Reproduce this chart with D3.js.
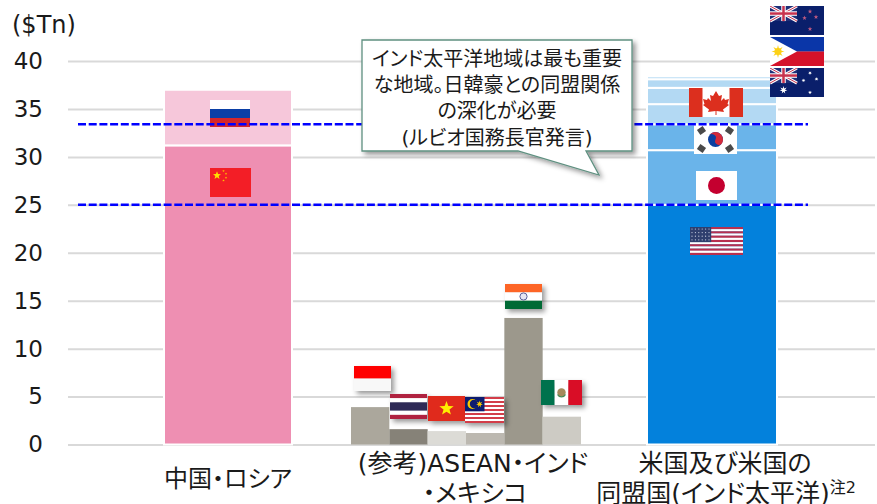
<!DOCTYPE html>
<html lang="ja">
<head>
<meta charset="UTF-8">
<title>インド太平洋地域のGDP</title>
<script src="https://d3js.org/d3.v7.min.js"></script>
<style>
  html, body { margin: 0; padding: 0; background: #fff; overflow: hidden; }
  text { font-family: "DejaVu Sans", "Noto Sans CJK JP", sans-serif; fill: #1a1a1a; }
  .jp { font-feature-settings: "palt"; }
</style>
</head>
<body>
<svg id="chart" width="877" height="504"></svg>
<script>
// values in $Tn
const yTicks = [0, 5, 10, 15, 20, 25, 30, 35, 40];
const refLines = [25, 33.4];

const chinaRussiaNames = ["中国", "ロシア"];
const chinaRussiaValues = [31.2, 5.8];
const chinaRussiaColors = ["#ee8fb2", "#f6c7da"];

const alliesNames = ["米国", "日本", "韓国", "カナダ", "豪州", "フィリピン", "NZ"];
const alliesValues = [25.0, 5.7, 2.7, 2.1, 1.7, 0.9, 0.3];
const alliesColors = ["#0381dc", "#6ab4ea", "#6ab4ea", "#b3d9f3", "#b3d9f3", "#b3d9f3", "#b3d9f3"];

const refNames = ["インドネシア", "タイ", "ベトナム", "マレーシア", "インド", "メキシコ"];
const refValues = [3.9, 1.6, 1.4, 1.2, 13.2, 2.9];
const refColors = ["#aba79c", "#868278", "#dcdbd6", "#bcb8b0", "#9c988c", "#cdcbc4"];

const calloutLines = ["インド太平洋地域は最も重要", "な地域。日韓豪との同盟関係", "の深化が必要", "(ルビオ国務長官発言)"];

const svg = d3.select("#chart");
const defs = svg.append("defs");

defs.append("filter").attr("id", "shadow")
    .attr("x", "-20%").attr("y", "-20%").attr("width", "150%").attr("height", "150%")
  .append("feDropShadow")
    .attr("dx", 3).attr("dy", 3).attr("stdDeviation", 2.5)
    .attr("flood-color", "#000").attr("flood-opacity", 0.4);

const y = d3.scaleLinear().domain([0, 40]).range([444.5, 61]);

// axis and grid
const axis = svg.append("g")
    .attr("transform", "translate(68,0)")
    .call(d3.axisLeft(y).tickValues(yTicks).tickSizeOuter(0).tickSizeInner(-807).tickPadding(25));
axis.select(".domain").remove();
axis.selectAll("line").attr("stroke", "#d9d9d9").attr("stroke-width", 2);
axis.selectAll("text").attr("font-size", 23).attr("font-family", "DejaVu Sans").attr("fill", "#1a1a1a");

svg.append("text").attr("x", 12).attr("y", 33).attr("font-size", 24).text("($Tn)");

// stacked bars
const stackCenter = d3.scaleOrdinal().domain(["cr", "allies"]).range([228, 712]);
const stackWidth = d3.scaleOrdinal().domain(["cr", "allies"]).range([128, 130]);

function drawStack(key, values, colors) {
  const tops = d3.cumsum(values);
  svg.append("g").selectAll("rect").data(values).join("rect")
      .attr("x", stackCenter(key) - stackWidth(key) / 2)
      .attr("width", stackWidth(key))
      .attr("y", (d, i) => y(tops[i]))
      .attr("height", d => y(0) - y(d))
      .attr("fill", (d, i) => colors[i])
      .attr("stroke", "#fff")
      .attr("stroke-width", 2);
}
drawStack("cr", chinaRussiaValues, chinaRussiaColors);
drawStack("allies", alliesValues, alliesColors);

// reference countries, side by side
const xRef = d3.scaleBand().domain(refNames).range([351, 581]);
svg.append("g").selectAll("rect").data(refValues).join("rect")
    .attr("x", (d, i) => xRef(refNames[i]))
    .attr("width", xRef.bandwidth())
    .attr("y", d => y(d))
    .attr("height", d => y(0) - y(d))
    .attr("fill", (d, i) => refColors[i]);

// flags, all drawn in a local box of w x h
function rect(g, x, y0, w, h, fill) {
  return g.append("rect").attr("x", x).attr("y", y0).attr("width", w).attr("height", h).attr("fill", fill);
}
function star(g, cx, cy, r, fill, points = 5) {
  const pts = d3.range(points * 2).map(i => {
    const a = -Math.PI / 2 + i * Math.PI / points;
    const rr = i % 2 ? r * 0.42 : r;
    return [cx + rr * Math.cos(a), cy + rr * Math.sin(a)].join(",");
  });
  g.append("polygon").attr("points", pts.join(" ")).attr("fill", fill);
}
function bands(g, w, h, colors, weights) {
  const total = d3.sum(weights || colors.map(() => 1));
  let at = 0;
  colors.forEach((c, i) => {
    const bh = h * (weights ? weights[i] : 1) / total;
    rect(g, 0, at, w, bh + 0.2, c);
    at += bh;
  });
}
function unionJack(g, w, h) {
  rect(g, 0, 0, w, h, "#1f2f78");
  const line = (x1, y1, x2, y2, c, sw) => g.append("line")
      .attr("x1", x1).attr("y1", y1).attr("x2", x2).attr("y2", y2)
      .attr("stroke", c).attr("stroke-width", sw);
  line(0, 0, w, h, "#fff", 3); line(w, 0, 0, h, "#fff", 3);
  line(0, 0, w, h, "#c8324e", 1); line(w, 0, 0, h, "#c8324e", 1);
  line(w / 2, 0, w / 2, h, "#fff", 4.5); line(0, h / 2, w, h / 2, "#fff", 4.5);
  line(w / 2, 0, w / 2, h, "#c8324e", 2.5); line(0, h / 2, w, h / 2, "#c8324e", 2.5);
}

const flagDraw = {
  russia(g, w, h) { bands(g, w, h, ["#fff", "#0a3fa6", "#d4272b"]); },
  china(g, w, h) {
    rect(g, 0, 0, w, h, "#f31e26");
    star(g, 7, 7.5, 4.2, "#ffe000");
    [[13.5, 3], [16, 5.8], [16, 9.8], [13.5, 12.5]].forEach(p => star(g, p[0], p[1], 1.3, "#ffc000"));
  },
  nz(g, w, h) {
    rect(g, 0, 0, w, h, "#0a1f6b");
    const c = g.append("g"); unionJack(c, w / 2, h * 0.52);
    [[40, 5.5], [34.5, 12], [46, 11], [40, 23]].forEach(p => star(g, p[0], p[1], 2.4, "#c05a80"));
  },
  philippines(g, w, h) {
    bands(g, w, h, ["#0a36a8", "#d5122a"]);
    g.append("polygon").attr("points", `0,0 ${w * 0.5},${h / 2} 0,${h}`).attr("fill", "#fff");
    star(g, 8, h / 2, 6.5, "#fcd116", 8);
    g.append("circle").attr("cx", 8).attr("cy", h / 2).attr("r", 3.5).attr("fill", "#fcd116");
  },
  australia(g, w, h) {
    rect(g, 0, 0, w, h, "#0a1f6b");
    const c = g.append("g"); unionJack(c, w / 2, h * 0.52);
    star(g, 13.5, 22, 4, "#fff", 7);
    [[40, 5], [33.5, 12.5], [46.5, 11], [40, 24.5]].forEach(p => star(g, p[0], p[1], 2, "#fff", 7));
  },
  canada(g, w, h) {
    rect(g, 0, 0, w, h, "#fff");
    rect(g, 0, 0, w * 0.25, h, "#dc2f1e");
    rect(g, w * 0.75, 0, w * 0.25, h, "#dc2f1e");
    const s = h / 29, cx = w / 2;
    const leaf = [[0, 3], [3, 8], [6, 7], [5, 13], [8, 10], [9, 12], [13, 11], [11.5, 16], [13, 17], [7, 21.5], [8, 24], [0.5, 23], [0.5, 27],
                  [-0.5, 27], [-0.5, 23], [-8, 24], [-7, 21.5], [-13, 17], [-11.5, 16], [-13, 11], [-9, 12], [-8, 10], [-5, 13], [-6, 7], [-3, 8]];
    g.append("polygon").attr("points", leaf.map(p => [cx + p[0] * s, p[1] * s].join(",")).join(" ")).attr("fill", "#dc2f1e");
  },
  korea(g, w, h) {
    rect(g, 0, 0, w, h, "#fff");
    const cx = w / 2, cy = h / 2, r = 7.5;
    g.append("circle").attr("cx", cx).attr("cy", cy).attr("r", r).attr("fill", "#0b3fa0");
    g.append("path").attr("transform", `rotate(25 ${cx} ${cy})`)
      .attr("d", `M${cx - r},${cy} A${r},${r} 0 0 1 ${cx + r},${cy} A${r / 2},${r / 2} 0 0 1 ${cx},${cy} A${r / 2},${r / 2} 0 0 0 ${cx - r},${cy}Z`)
      .attr("fill", "#d42a3a");
    [[-14, -9, -35], [14, -9, 35], [-14, 9, 35], [14, 9, -35]].forEach(t => {
      rect(g, cx + t[0] - 3.5, cy + t[1] - 3, 7, 6, "#4a4a4a")
        .attr("transform", `rotate(${t[2]} ${cx + t[0]} ${cy + t[1]})`);
    });
  },
  japan(g, w, h) {
    rect(g, 0, 0, w, h, "#fff");
    g.append("circle").attr("cx", w / 2).attr("cy", h / 2).attr("r", 8.5).attr("fill", "#c4002f");
  },
  usa(g, w, h) {
    bands(g, w, h, d3.range(13).map(i => i % 2 ? "#fff" : "#b8304f"));
    rect(g, 0, 0, w * 0.4, h * 0.54, "#2f3f6e");
    d3.range(4).forEach(r => d3.range(6).forEach(c => {
      g.append("circle").attr("cx", 2 + c * 3.4).attr("cy", 2 + r * 3.6).attr("r", 0.6).attr("fill", "#cfd4e4");
    }));
  },
  indonesia(g, w, h) { bands(g, w, h, ["#ff0000", "#f8f8f8"]); },
  thailand(g, w, h) { bands(g, w, h, ["#b0233f", "#fff", "#2d2a56", "#fff", "#b0233f"], [1, 1, 2, 1, 1]); },
  vietnam(g, w, h) {
    rect(g, 0, 0, w, h, "#e0291f");
    star(g, w / 2, h / 2, 7.5, "#ffee00");
  },
  malaysia(g, w, h) {
    bands(g, w, h, d3.range(13).map(i => i % 2 ? "#fff" : "#d33c4a"));
    rect(g, 0, 0, w * 0.5, h * 0.55, "#0a1f70");
    g.append("circle").attr("cx", 7.5).attr("cy", 7).attr("r", 5).attr("fill", "#f8c800");
    g.append("circle").attr("cx", 9).attr("cy", 7).attr("r", 4.2).attr("fill", "#0a1f70");
    star(g, 14.5, 7, 3.5, "#f8c800", 7);
  },
  india(g, w, h) {
    bands(g, w, h, ["#fd6526", "#fff", "#066b35"]);
    g.append("circle").attr("cx", w / 2).attr("cy", h / 2).attr("r", 3.6)
      .attr("fill", "#e6e6f2").attr("stroke", "#5a5f9a").attr("stroke-width", 1);
  },
  mexico(g, w, h) {
    rect(g, 0, 0, w / 3, h, "#01724e");
    rect(g, w / 3, 0, w / 3, h, "#fff");
    rect(g, w * 2 / 3, 0, w / 3, h, "#d91128");
    g.append("circle").attr("cx", w / 2).attr("cy", h / 2).attr("r", 4.2).attr("fill", "#a58a5c");
    g.append("path").attr("d", `M${w / 2 - 4},${h / 2 + 2} a4.5,4.5 0 0 0 8,0`)
      .attr("fill", "none").attr("stroke", "#4a8a55").attr("stroke-width", 1.3);
  }
};

const flagSpots = [
  { name: "russia", x: 210, y: 100, w: 40, h: 27 },
  { name: "china", x: 210, y: 168, w: 41, h: 29 },
  { name: "nz", x: 770, y: 6, w: 54, h: 29 },
  { name: "philippines", x: 770, y: 37, w: 54, h: 29 },
  { name: "australia", x: 770, y: 68, w: 54, h: 29 },
  { name: "canada", x: 689, y: 88, w: 54, h: 29 },
  { name: "korea", x: 694, y: 125, w: 43, h: 29 },
  { name: "japan", x: 696, y: 171, w: 41, h: 29 },
  { name: "usa", x: 690, y: 227, w: 53, h: 28 },
  { name: "indonesia", x: 354, y: 366, w: 37, h: 25, shadow: true },
  { name: "thailand", x: 390, y: 394, w: 37, h: 25, shadow: true },
  { name: "vietnam", x: 428, y: 396, w: 37, h: 25, shadow: true },
  { name: "malaysia", x: 465, y: 397, w: 39, h: 26, shadow: true },
  { name: "india", x: 505, y: 284, w: 37, h: 25, shadow: true },
  { name: "mexico", x: 541, y: 380, w: 41, h: 25, shadow: true }
];

flagSpots.forEach(f => {
  const outer = svg.append("g").attr("transform", `translate(${f.x},${f.y})`);
  if (f.shadow) outer.attr("filter", "url(#shadow)");
  const clipId = "clip-" + f.name;
  defs.append("clipPath").attr("id", clipId).append("rect").attr("width", f.w).attr("height", f.h);
  flagDraw[f.name](outer.append("g").attr("clip-path", `url(#${clipId})`), f.w, f.h);
});

// dashed reference lines
svg.append("g").selectAll("line").data(refLines).join("line")
    .attr("x1", 78).attr("x2", 808)
    .attr("y1", d => y(d)).attr("y2", d => y(d))
    .attr("stroke", "#0000ff").attr("stroke-width", 2.4)
    .attr("stroke-dasharray", "8 2.7");

// callout
svg.append("path")
    .attr("d", "M362,40 H632 V151 H586 L599,175 L518,151 H362 Z")
    .attr("fill", "#fff").attr("stroke", "#5f9080").attr("stroke-width", 1.3)
    .attr("filter", "url(#shadow)");
svg.append("g").selectAll("text").data(calloutLines).join("text")
    .attr("class", "jp")
    .attr("x", 497)
    .attr("y", (d, i) => 66 + i * 26.2)
    .attr("text-anchor", "middle")
    .attr("font-size", 20)
    .text(d => d);

// category labels
function label(x, yPos, txt, size, note) {
  const t = svg.append("text").attr("class", "jp").attr("x", x).attr("y", yPos)
      .attr("text-anchor", "middle").attr("font-size", size).text(txt);
  if (note) t.append("tspan").attr("font-size", 16).attr("dy", -9).text(note);
}
label(228, 487, "中国・ロシア", 24);
label(473, 472, "(参考)ASEAN・インド", 25);
label(475, 502, "・メキシコ", 25);
label(725, 472, "米国及び米国の", 25);
label(726, 502, "同盟国(インド太平洋)", 25, "注2");

// title sits above the crop, only its brackets peek in
svg.append("text").attr("class", "jp").attr("x", 526).attr("y", -14).attr("font-size", 20).text("(");
svg.append("text").attr("class", "jp").attr("x", 685).attr("y", -14).attr("font-size", 20).text(")");
</script>
</body>
</html>
